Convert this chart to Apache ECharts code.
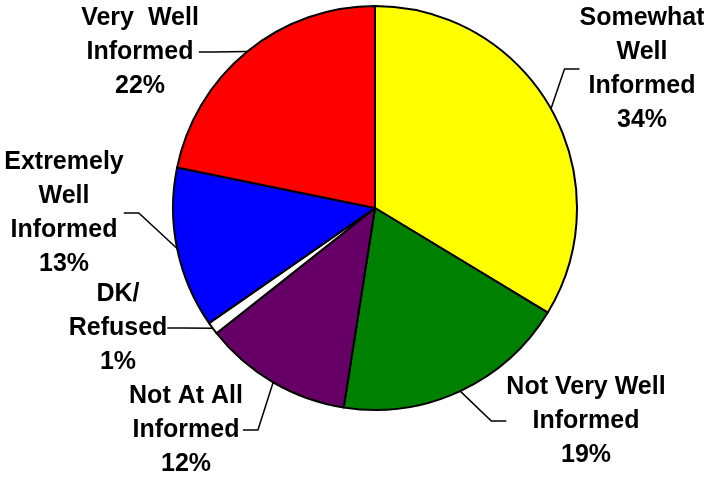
<!DOCTYPE html>
<html>
<head>
<meta charset="utf-8">
<script src="https://cdn.jsdelivr.net/npm/echarts@6/dist/echarts.min.js"></script>
<style>
  html, body { margin: 0; padding: 0; background: #fff; }
  #chart { width: 704px; height: 477px; }
</style>
</head>
<body>
<div id="chart"></div>
<script>
// Survey: how well informed respondents feel
const categories = [
  'Somewhat\nWell\nInformed',
  'Not Very Well\nInformed',
  'Not At All\nInformed',
  'DK/\nRefused',
  'Extremely\nWell\nInformed',
  'Very  Well\nInformed'
];
const shares = [34, 19, 12, 1, 13, 22];
const sliceColors = ['#FFFF00', '#008000', '#660066', '#FFFFFF', '#0000FF', '#FF0000'];

// Where each label block sits (centre of the text block)
const labelSpots = [
  [642, 69],
  [586, 421],
  [186, 430],
  [118, 328],
  [64, 213],
  [140, 52]
];

const chart = echarts.init(document.getElementById('chart'), null, { renderer: 'canvas' });

chart.setOption({
  backgroundColor: '#ffffff',
  animation: false,
  series: [{
    type: 'pie',
    center: [375, 208],
    radius: 202,
    startAngle: 90,
    clockwise: true,
    data: categories.map((name, i) => ({
      name: name,
      value: shares[i],
      itemStyle: { color: sliceColors[i] }
    })),
    itemStyle: { borderColor: '#000', borderWidth: 2 },
    label: {
      show: true,
      formatter: p => p.name + '\n' + p.value + '%',
      fontFamily: 'Liberation Sans, Arial, sans-serif',
      fontWeight: 'bold',
      fontSize: 25,
      lineHeight: 34,
      color: '#000',
      align: 'center',
      overflow: 'none'
    },
    labelLine: {
      show: true,
      length: 15,
      length2: 15,
      lineStyle: { color: '#000', width: 1.5 }
    },
    labelLayout: params => {
      const spot = labelSpots[params.dataIndex];
      return {
        x: spot[0],
        y: spot[1],
        align: 'center',
        verticalAlign: 'middle'
      };
    },
    emphasis: { disabled: true }
  }]
});
</script>
</body>
</html>
